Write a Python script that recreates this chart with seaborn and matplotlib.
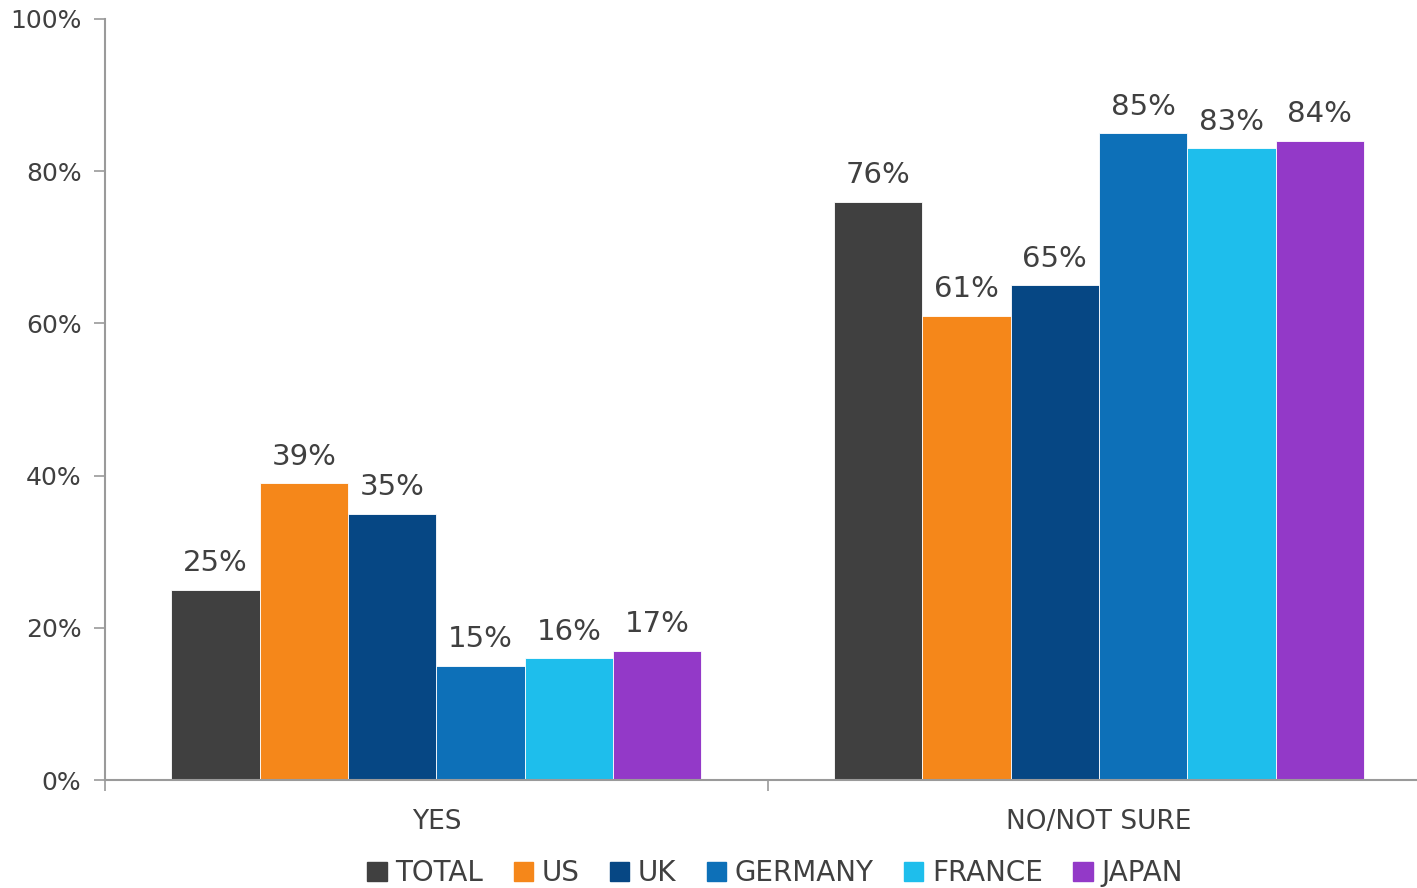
import numpy as np
import pandas as pd
import matplotlib
matplotlib.use("Agg")
import matplotlib.pyplot as plt
import seaborn as sns
from matplotlib.ticker import FixedLocator, PercentFormatter

# chart data
answers = ["YES", "NO/NOT SURE"]
countries = ["TOTAL", "US", "UK", "GERMANY", "FRANCE", "JAPAN"]
yes_vals = [25, 39, 35, 15, 16, 17]
no_vals = [76, 61, 65, 85, 83, 84]
colors = ["#404040", "#F5871A", "#064784", "#0D70B8", "#1EBEEC", "#9339C8"]

df = pd.DataFrame({
    "answer": [answers[0]] * len(countries) + [answers[1]] * len(countries),
    "country": countries * 2,
    "value": yes_vals + no_vals,
})

sns.set_theme(style="white")
plt.rcParams["font.family"] = ["DejaVu Sans"]
text_col = "#404040"
axis_col = "#9a9a9a"

fig = plt.figure(figsize=(14.17, 8.88), dpi=100)
ax = fig.add_axes([105 / 1417, 108 / 888, 1 - 105 / 1417, 761 / 888])

sns.barplot(data=df, x="answer", y="value", hue="country",
            hue_order=countries, palette=colors, order=answers,
            width=0.8, linewidth=0.6, edgecolor="white",
            saturation=1, legend=False, ax=ax)

for cont in ax.containers:
    ax.bar_label(cont, labels=[f"{int(b.get_height())}%" for b in cont],
                 padding=9, fontsize=21, color=text_col)

ax.set_ylim(0, 100)
ax.set_xlim(-0.5, 1.48)
ax.set_yticks([0, 20, 40, 60, 80, 100])
ax.yaxis.set_major_formatter(PercentFormatter(decimals=0))
ax.set_xlabel("")
ax.set_ylabel("")

# category boundary ticks
ax.xaxis.set_minor_locator(FixedLocator([-0.5, 0.5, 1.5]))
ax.tick_params(axis="x", which="major", length=0, pad=21,
               labelsize=19, labelcolor=text_col)
ax.tick_params(axis="x", which="minor", length=8, width=1.2,
               color=axis_col, direction="out", bottom=True)
ax.tick_params(axis="y", length=8, width=1.2, color=axis_col,
               direction="out", left=True, labelsize=18,
               labelcolor=text_col, pad=9)

sns.despine(ax=ax, top=True, right=True)
for s in ["left", "bottom"]:
    ax.spines[s].set_color(axis_col)
    ax.spines[s].set_linewidth(1.5)

handles = [plt.Rectangle((0, 0), 1, 1, color=c) for c in colors]
fig.legend(handles, countries, loc="center", bbox_to_anchor=(775 / 1417, 1 - 873 / 888),
           ncol=6, frameon=False, fontsize=20, handlelength=0.7, handleheight=0.7,
           handletextpad=0.3, columnspacing=1.1, labelcolor=text_col,
           borderaxespad=0, borderpad=0)

fig.savefig("out.png", dpi=100)
